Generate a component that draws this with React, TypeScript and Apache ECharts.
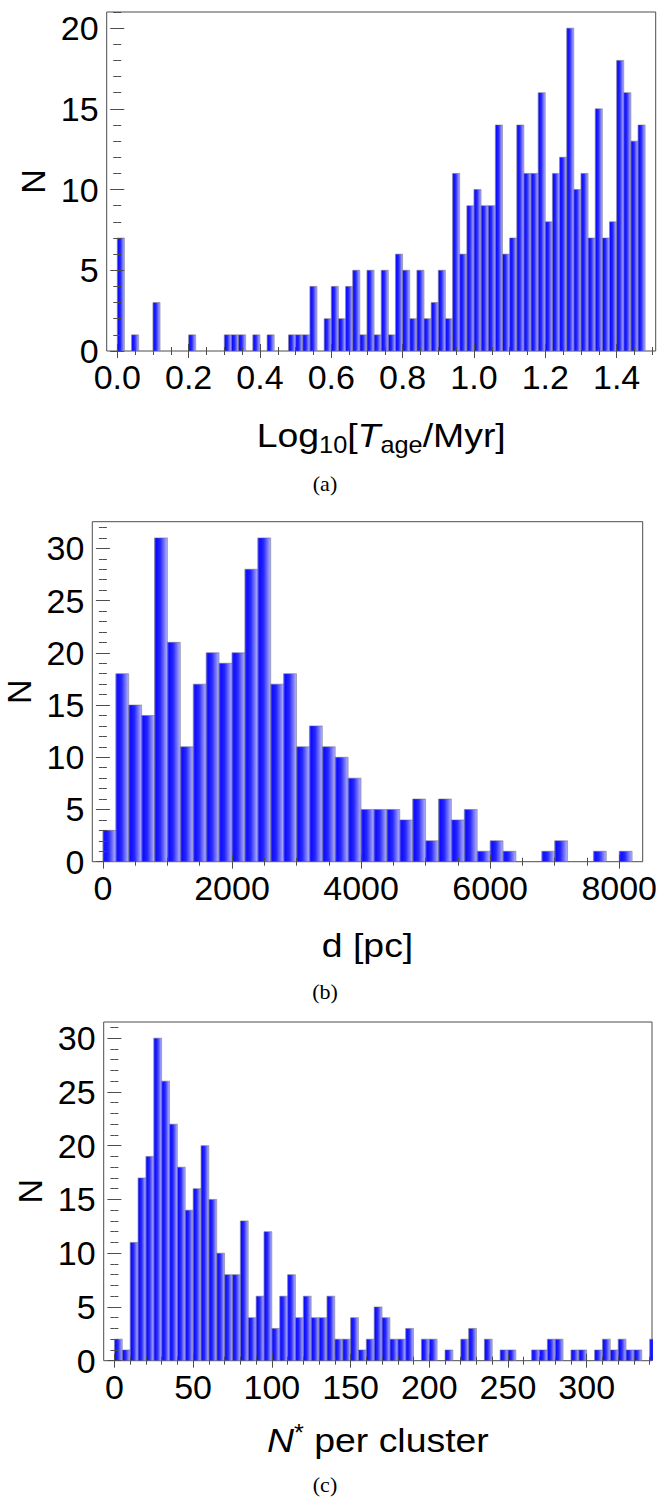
import React, { useEffect, useRef } from "react";
import * as echarts from "echarts";

// ---------- data ----------
// (a) Log10[T_age/Myr], bins of 0.02 starting at 0
const ageBinStart = 0;
const ageBinWidth = 0.02;
const ageCounts = [
  7, 0, 1, 0, 0, 3, 0, 0, 0, 0, 1, 0, 0, 0, 0, 1, 1, 1, 0, 1,
  0, 1, 0, 0, 1, 1, 1, 4, 0, 2, 4, 2, 4, 5, 1, 5, 1, 5, 1, 6,
  5, 2, 5, 2, 3, 5, 2, 11, 6, 9, 10, 9, 9, 14, 6, 7, 14, 11, 11, 16,
  8, 11, 12, 20, 10, 11, 7, 15, 7, 8, 18, 16, 13, 14,
];

// (b) d [pc], bins of 200 starting at 0
const distBinStart = 0;
const distBinWidth = 200;
const distCounts = [
  3, 18, 15, 14, 31, 21, 11, 17, 20, 19, 20, 28, 31, 17, 18, 11, 13, 11, 10, 8,
  5, 5, 5, 4, 6, 2, 6, 4, 5, 1, 2, 1, 0, 0, 1, 2, 0, 0, 1, 0, 1,
];

// (c) N* per cluster, bins of 5 starting at 0
const starsBinStart = 0;
const starsBinWidth = 5;
const starsCounts = [
  2, 1, 11, 17, 19, 30, 26, 22, 18, 14, 16, 20, 15, 10, 8, 8, 13, 4, 6, 12,
  3, 6, 8, 4, 6, 4, 4, 6, 2, 2, 4, 1, 2, 5, 4, 2, 2, 3, 0, 2,
  2, 0, 1, 0, 2, 3, 0, 2, 0, 1, 1, 0, 0, 1, 1, 2, 2, 0, 1, 1,
  0, 1, 2, 1, 2, 1, 1, 0, 2,
];

// tick labels
const ageXTicks = [0, 0.2, 0.4, 0.6, 0.8, 1.0, 1.2, 1.4];
const distXTicks = [0, 2000, 4000, 6000, 8000];
const starsXTicks = [0, 50, 100, 150, 200, 250, 300];
const ageYTicks = [0, 5, 10, 15, 20];
const distYTicks = [0, 5, 10, 15, 20, 25, 30];
const starsYTicks = [0, 5, 10, 15, 20, 25, 30];

function steps(a: number, b: number, s: number): number[] {
  const out: number[] = [];
  const n = Math.round((b - a) / s);
  for (let i = 0; i <= n; i++) out.push(+(a + i * s).toFixed(6));
  return out;
}

const FONT = "'Liberation Sans', Arial, Helvetica, sans-serif";
const SERIF = "'Liberation Serif', 'Times New Roman', serif";
const FRAME = "#4d4d4d";
const FS = 34;
const TITLE_SCALE = 1.1;

type Panel = {
  counts: number[];
  start: number;
  width: number;
  xMin: number;
  xMax: number;
  yMax: number;
  xMajor: number[];
  xMinor: number[];
  yMajor: number[];
  yMinor: number[];
  xFmt: (v: number) => string;
  grid: { left: number; top: number; width: number; height: number };
};

const panels: Panel[] = [
  {
    counts: ageCounts,
    start: ageBinStart,
    width: ageBinWidth,
    xMin: -0.0296,
    xMax: 1.5096,
    yMax: 21,
    xMajor: ageXTicks,
    xMinor: steps(0, 1.5, 0.05),
    yMajor: ageYTicks,
    yMinor: steps(0, 21, 1),
    xFmt: (v) => v.toFixed(1),
    grid: { left: 106.7, top: 12, width: 549, height: 339 },
  },
  {
    counts: distCounts,
    start: distBinStart,
    width: distBinWidth,
    xMin: -164,
    xMax: 8364,
    yMax: 32.55,
    xMajor: distXTicks,
    xMinor: steps(0, 8000, 500),
    yMajor: distYTicks,
    yMinor: steps(0, 32, 1),
    xFmt: (v) => String(Math.round(v)),
    grid: { left: 92.3, top: 521.7, width: 550.4, height: 340 },
  },
  {
    counts: starsCounts,
    start: starsBinStart,
    width: starsBinWidth,
    xMin: -6.8,
    xMax: 341.5,
    yMax: 31.5,
    xMajor: starsXTicks,
    xMinor: steps(0, 340, 10),
    yMajor: starsYTicks,
    yMinor: steps(0, 31, 1),
    xFmt: (v) => String(Math.round(v)),
    grid: { left: 103.7, top: 1022, width: 548.3, height: 338.7 },
  },
];

function buildOption() {
  const grid: any[] = [];
  const xAxis: any[] = [];
  const yAxis: any[] = [];
  const series: any[] = [];

  const barFill = new echarts.graphic.LinearGradient(0, 0, 1, 0, [
    { offset: 0, color: "#4a4aff" },
    { offset: 0.15, color: "#0c0cff" },
    { offset: 0.45, color: "#2828ff" },
    { offset: 1, color: "#b6b6ff" },
  ]);

  panels.forEach((p, k) => {
    grid.push({
      left: p.grid.left,
      top: p.grid.top,
      width: p.grid.width,
      height: p.grid.height,
      show: true,
      borderColor: FRAME,
      borderWidth: 1,
      backgroundColor: "transparent",
    });

    const mkX = (pos: string, ticks: number[], len: number, labels: boolean) => ({
      type: "value",
      gridIndex: k,
      position: pos,
      min: p.xMin,
      max: p.xMax,
      z: 5,
      axisLine: { show: false },
      splitLine: { show: false },
      axisTick: {
        show: true,
        inside: true,
        length: len,
        customValues: ticks,
        lineStyle: { color: FRAME, width: 1 },
      },
      axisLabel: labels
        ? {
            show: true,
            customValues: ticks,
            formatter: p.xFmt,
            fontSize: FS,
            fontFamily: FONT,
            color: "#000",
            margin: 9,
          }
        : { show: false },
    });
    const mkY = (pos: string, ticks: number[], len: number, labels: boolean) => ({
      type: "value",
      gridIndex: k,
      position: pos,
      min: 0,
      max: p.yMax,
      z: 5,
      axisLine: { show: false },
      splitLine: { show: false },
      axisTick: {
        show: true,
        inside: true,
        length: len,
        customValues: ticks,
        lineStyle: { color: FRAME, width: 1 },
      },
      axisLabel: labels
        ? {
            show: true,
            customValues: ticks,
            formatter: (v: number) => String(Math.round(v)),
            fontSize: FS,
            fontFamily: FONT,
            color: "#000",
            margin: 8,
          }
        : { show: false },
    });

    xAxis.push(
      mkX("bottom", p.xMajor, 7, true),
      mkX("bottom", p.xMinor, 4, false),
      mkX("top", p.xMajor, 7, false),
      mkX("top", p.xMinor, 4, false)
    );
    yAxis.push(
      mkY("left", p.yMajor, 7, true),
      mkY("left", p.yMinor, 4, false),
      mkY("right", p.yMajor, 7, false),
      mkY("right", p.yMinor, 4, false)
    );

    series.push({
      type: "custom",
      xAxisIndex: 4 * k,
      yAxisIndex: 4 * k,
      clip: true,
      encode: { x: [0, 1], y: 2 },
      data: p.counts.map((c, i) => [p.start + i * p.width, p.start + (i + 1) * p.width, c]),
      renderItem: (_params: any, api: any) => {
        const x0 = api.value(0);
        const x1 = api.value(1);
        const y = api.value(2);
        if (!y) return null;
        const a = api.coord([x0, 0]);
        const b = api.coord([x1, y]);
        return {
          type: "rect",
          shape: { x: a[0], y: b[1], width: b[0] - a[0], height: a[1] - b[1] },
          style: { fill: barFill, stroke: "rgba(110,110,120,0.75)", lineWidth: 0.7 },
        };
      },
    });
  });

  const richBase = { fontSize: FS, fontFamily: FONT, color: "#000", lineHeight: 40 };
  const graphic: any[] = [
    // y titles
    ...[
      { x: 33, y: 181.5 },
      { x: 19, y: 691.7 },
      { x: 30, y: 1191.3 },
    ].map((pos) => ({
      type: "text",
      x: pos.x,
      y: pos.y,
      rotation: Math.PI / 2,
      style: {
        text: "N",
        fontSize: FS,
        fontFamily: FONT,
        fill: "#000",
        align: "center",
        verticalAlign: "middle",
      },
    })),
    // x titles
    {
      type: "text",
      x: 381.2,
      y: 436,
      scaleX: TITLE_SCALE,
      style: {
        text: "{n|Log}{s|10}{n|[}{i|T}{s|age}{n|/Myr]}",
        align: "center",
        verticalAlign: "middle",
        rich: {
          n: richBase,
          i: { ...richBase, fontStyle: "italic" },
          s: { fontSize: 23, fontFamily: FONT, color: "#000", lineHeight: 20, verticalAlign: "bottom" },
        },
      },
    },
    {
      type: "text",
      x: 367.5,
      y: 946,
      scaleX: TITLE_SCALE,
      style: {
        text: "d [pc]",
        fontSize: FS,
        fontFamily: FONT,
        fill: "#000",
        align: "center",
        verticalAlign: "middle",
      },
    },
    {
      type: "text",
      x: 377.9,
      y: 1441,
      scaleX: TITLE_SCALE,
      style: {
        text: "{i|N}{p|*}{n| per cluster}",
        align: "center",
        verticalAlign: "middle",
        rich: {
          n: richBase,
          i: { ...richBase, fontStyle: "italic" },
          p: { fontSize: 23, fontFamily: FONT, color: "#000", lineHeight: 20, verticalAlign: "top" },
        },
      },
    },
    // captions
    ...[
      { t: "(a)", y: 483 },
      { t: "(b)", y: 991 },
      { t: "(c)", y: 1484 },
    ].map((c) => ({
      type: "text",
      x: 325,
      y: c.y,
      style: {
        text: c.t,
        fontSize: 22,
        fontFamily: SERIF,
        fill: "#000",
        align: "center",
        verticalAlign: "middle",
      },
    })),
  ];

  return {
    animation: false,
    backgroundColor: "#ffffff",
    grid,
    xAxis,
    yAxis,
    series,
    graphic,
  };
}

export default function App() {
  const ref = useRef<HTMLDivElement>(null);
  useEffect(() => {
    document.body.style.margin = "0";
    const chart = echarts.init(ref.current as HTMLDivElement, null, { renderer: "svg" });
    chart.setOption(buildOption() as any);
    return () => chart.dispose();
  }, []);
  return <div ref={ref} style={{ width: 671, height: 1499 }} />;
}
